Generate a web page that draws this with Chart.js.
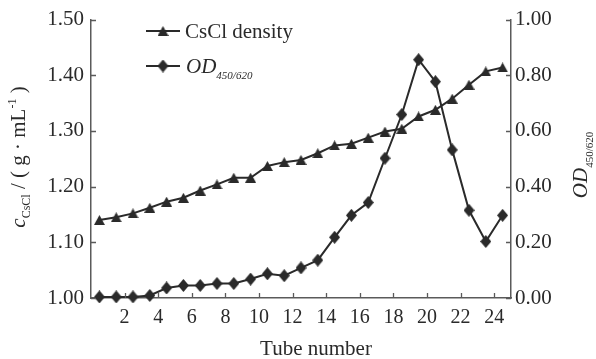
<!DOCTYPE html>
<html><head><meta charset="utf-8">
<script src="https://cdn.jsdelivr.net/npm/chart.js@4/dist/chart.umd.min.js"></script>
<style>html,body{margin:0;padding:0;background:#fff;}#wrap{width:596px;height:359px;position:relative;}</style>
</head><body><div id="wrap"><canvas id="c"></canvas></div>
<script>
// ---- data ----
const tubes = [0.5,1.5,2.5,3.5,4.5,5.5,6.5,7.5,8.5,9.5,10.5,11.5,12.5,13.5,14.5,15.5,16.5,17.5,18.5,19.5,20.5,21.5,22.5,23.5,24.5];
const csclDensity = [1.140,1.145,1.152,1.162,1.173,1.180,1.193,1.204,1.216,1.216,1.237,1.244,1.248,1.260,1.274,1.277,1.288,1.299,1.304,1.326,1.338,1.358,1.383,1.407,1.414];
const od450620 = [0.004,0.004,0.004,0.009,0.036,0.045,0.045,0.052,0.052,0.068,0.087,0.080,0.108,0.136,0.218,0.297,0.343,0.502,0.659,0.856,0.777,0.532,0.315,0.203,0.297];
const xTickValues = [2,4,6,8,10,12,14,16,18,20,22,24];
const leftTickValues = [1.00,1.10,1.20,1.30,1.40,1.50];
const rightTickValues = [0.00,0.20,0.40,0.60,0.80,1.00];
const seriesNames = ['CsCl density','OD'];

const INK = '#2a2a2a';
const AXIS = '#5a5a5a';
const SERIF = '"Liberation Serif", "Times New Roman", serif';

function makeTriangle(w,h){
  const c=document.createElement('canvas');c.width=w;c.height=h;
  const g=c.getContext('2d');g.fillStyle=INK;g.beginPath();
  g.moveTo(w/2,0);g.lineTo(w,h);g.lineTo(0,h);g.closePath();g.fill();return c;
}
function makeDiamond(w,h){
  const c=document.createElement('canvas');c.width=w;c.height=h;
  const g=c.getContext('2d');g.fillStyle=INK;g.beginPath();
  g.moveTo(w/2,0);g.lineTo(w,h/2);g.lineTo(w/2,h);g.lineTo(0,h/2);g.closePath();g.fill();return c;
}
const triImg = makeTriangle(11,10);
const diaImg = makeDiamond(11,13);

function drawPieces(ctx, pieces, startX, baseY){
  let x=startX;
  for(const p of pieces){
    ctx.font=p.font;
    ctx.fillText(p.t, x, baseY+(p.dy||0));
    x+=ctx.measureText(p.t).width;
  }
  return x;
}
function piecesWidth(ctx,pieces){
  let w=0;for(const p of pieces){ctx.font=p.font;w+=ctx.measureText(p.t).width;}return w;
}

const decor = {
  id:'decor',
  afterDraw(chart){
    const ctx=chart.ctx, a=chart.chartArea;
    const xs=chart.scales.x, yl=chart.scales.y, yr=chart.scales.y1;
    ctx.save();
    ctx.strokeStyle=AXIS; ctx.lineWidth=1.3;
    ctx.beginPath();
    for(const v of xTickValues){const px=Math.round(xs.getPixelForValue(v))+0.5;ctx.moveTo(px,a.bottom);ctx.lineTo(px,a.bottom-5);}
    for(const v of leftTickValues){const py=Math.round(yl.getPixelForValue(v))+0.5;ctx.moveTo(a.left,py);ctx.lineTo(a.left+5,py);}
    for(const v of rightTickValues){const py=Math.round(yr.getPixelForValue(v))+0.5;ctx.moveTo(a.right,py);ctx.lineTo(a.right-5,py);}
    ctx.stroke();

    // legend
    ctx.fillStyle=INK; ctx.strokeStyle=INK; ctx.lineWidth=2;
    ctx.beginPath();ctx.moveTo(146,31);ctx.lineTo(180,31);ctx.moveTo(146,66);ctx.lineTo(180,66);ctx.stroke();
    ctx.drawImage(triImg,163-triImg.width/2,31-triImg.height/2);
    ctx.drawImage(diaImg,163-diaImg.width/2,66-diaImg.height/2);
    ctx.textBaseline='alphabetic'; ctx.textAlign='left';
    drawPieces(ctx,[{t:seriesNames[0],font:'21px '+SERIF}],185,38);
    drawPieces(ctx,[{t:seriesNames[1],font:'italic 21px '+SERIF},{t:'450/620',font:'italic 11px '+SERIF,dy:6}],186,73);

    // x title
    ctx.font='21px '+SERIF; ctx.textAlign='center';
    ctx.fillText('Tube number',316,355);
    ctx.textAlign='left';

    // left title
    const lp=[{t:'c',font:'italic 21px '+SERIF},{t:'CsCl',font:'12px '+SERIF,dy:5},{t:' / ( g · mL',font:'21px '+SERIF},{t:'-1',font:'12px '+SERIF,dy:-9},{t:' )',font:'21px '+SERIF}];
    ctx.save();ctx.translate(25,157);ctx.rotate(-Math.PI/2);
    drawPieces(ctx,lp,-piecesWidth(ctx,lp)/2,0);ctx.restore();

    // right title
    const rp=[{t:'OD',font:'italic 21px '+SERIF},{t:'450/620',font:'11px '+SERIF,dy:6}];
    ctx.save();ctx.translate(587,165);ctx.rotate(-Math.PI/2);
    drawPieces(ctx,rp,-piecesWidth(ctx,rp)/2,0);ctx.restore();
    ctx.restore();
  }
};

const csclPts = tubes.map((t,i)=>({x:t,y:csclDensity[i]}));
const odPts = tubes.map((t,i)=>({x:t,y:od450620[i]}));

new Chart(document.getElementById('c'),{
  type:'line',
  data:{datasets:[
    {label:seriesNames[0],data:csclPts,yAxisID:'y',borderColor:INK,borderWidth:2,pointStyle:triImg,pointRadius:5,tension:0,clip:false,fill:false},
    {label:seriesNames[1],data:odPts,yAxisID:'y1',borderColor:INK,borderWidth:2,pointStyle:diaImg,pointRadius:6,tension:0,clip:false,fill:false}
  ]},
  options:{
    responsive:true,maintainAspectRatio:false,animation:false,devicePixelRatio:1,
    layout:{padding:{top:17,left:0,right:0,bottom:0}},
    plugins:{legend:{display:false},tooltip:{enabled:false},title:{display:false}},
    scales:{
      x:{type:'linear',min:0,max:25,
        afterBuildTicks:s=>{s.ticks=xTickValues.map(v=>({value:v}));},
        afterFit:s=>{s.height=61;},
        grid:{drawOnChartArea:false,drawTicks:false},
        border:{display:true,color:AXIS,width:1.5},
        ticks:{padding:8,color:INK,font:{family:SERIF,size:20},callback:v=>String(v),maxRotation:0,autoSkip:false}},
      y:{type:'linear',position:'left',min:1.0,max:1.5,
        afterBuildTicks:s=>{s.ticks=leftTickValues.map(v=>({value:v}));},
        afterFit:s=>{s.width=91;},
        grid:{drawOnChartArea:false,drawTicks:false},
        border:{display:true,color:AXIS,width:1.5},
        ticks:{padding:7,color:INK,font:{family:SERIF,size:21},callback:v=>Number(v).toFixed(2)}},
      y1:{type:'linear',position:'right',min:0,max:1.0,
        afterBuildTicks:s=>{s.ticks=rightTickValues.map(v=>({value:v}));},
        afterFit:s=>{s.width=85;},
        grid:{drawOnChartArea:false,drawTicks:false},
        border:{display:true,color:AXIS,width:1.5},
        ticks:{padding:4,color:INK,font:{family:SERIF,size:21},callback:v=>Number(v).toFixed(2)}}
    }
  },
  plugins:[decor]
});
</script></body></html>
